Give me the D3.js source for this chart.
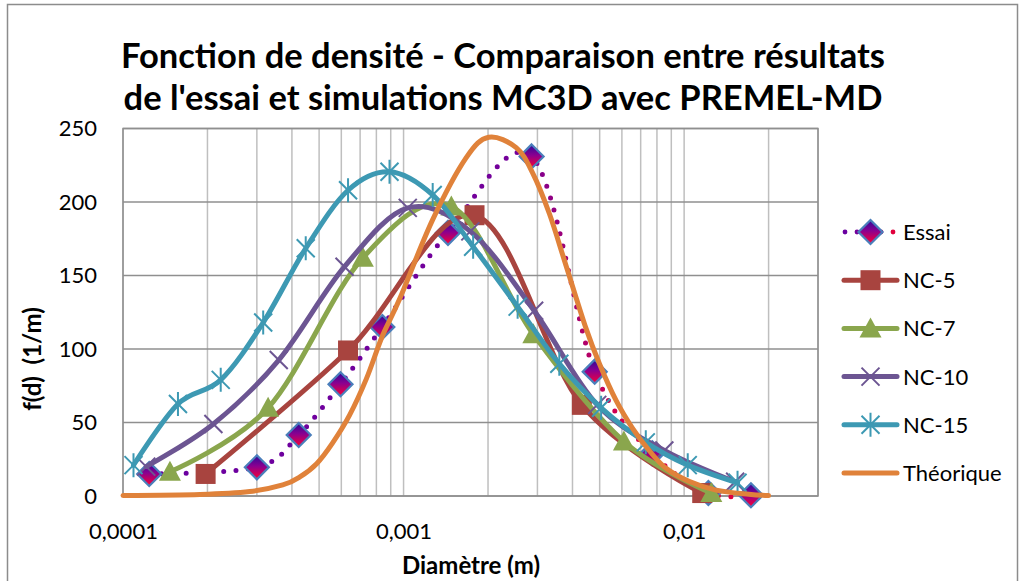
<!DOCTYPE html>
<html><head><meta charset="utf-8">
<script src="https://cdn.jsdelivr.net/npm/d3@7"></script>
<style>
html,body{margin:0;padding:0;background:#fff;}
svg{display:block;font-family:Lato,"Open Sans",sans-serif;}
</style></head><body>
<svg id="c" width="1032" height="581"></svg>
<script>
// ---- data ----
const seriesNames = ["Essai","NC-5","NC-7","NC-10","NC-15","Théorique"];
const essaiD   = [0.000124,0.0003,0.000423,0.000596,0.00084,0.00144,0.00286,0.0048,0.0077,0.0122,0.0173];
const essaiF   = [15,19.5,41.5,76,115,179,231,84.6,29,2,0.5];
const nc5D     = [0.000197,0.000634,0.00179,0.00432,0.0116];
const nc5F     = [15,99,191,62,2];
const nc7D     = [0.000147,0.000329,0.000716,0.00148,0.0029,0.0061,0.0125];
const nc7F     = [16.5,60,162,197,110,37,2];
const nc10D    = [0.000121,0.00021,0.000359,0.000616,0.001035,0.00173,0.00292,0.0049,0.0085,0.0152];
const nc10F    = [20,49,92.5,156,196,180,126,62,31,9.7];
const nc15D    = [0.000109,0.000157,0.000223,0.000316,0.000448,0.000634,0.000891,0.00127,0.00177,0.00255,0.00359,0.00506,0.0073,0.0103,0.0155];
const nc15F    = [21,62.6,79,118,168.5,208,220.6,204.8,169.6,128.8,90,60,36.5,21,9];
const theoD    = [0.0001,0.000188,0.000283,0.000371,0.000427,0.00049,0.000558,0.000642,0.000738,0.000841,0.000968,0.00127,0.00167,0.00201,0.00252,0.00288,0.00331,0.00379,0.00447,0.00499,0.00572,0.00655,0.0075,0.0086,0.0104,0.013,0.017,0.02];
const theoF    = [0.3,1,3,7.5,13,22,36,55,80,109,134,188,230,244,237,220,192,157,114,90,65,46,31,19,10,4,1.2,0.3];
const xTickVals   = [0.0001,0.001,0.01];
const xTickLabels = ["0,0001","0,001","0,01"];
const yTickVals   = [0,50,100,150,200,250];
const titleLines  = ["Fonction de densité - Comparaison entre résultats","de l'essai et simulations MC3D avec PREMEL-MD"];
const xTitle = "Diamètre (m)";
const yTitle = "f(d)  (1/m)";

// ---- layout ----
const svg = d3.select("#c");
const L=123, R=818, T=128.5, B=496;
const x = d3.scaleLog().domain([0.0001,0.03]).range([L,R]);
const y = d3.scaleLinear().domain([0,250]).range([B,T]);

const colors = {"Essai":"#7A1FA2","NC-5":"#A8443F","NC-7":"#8AA64D","NC-10":"#6C5592","NC-15":"#3D99B3","Théorique":"#E0823A"};

const defs = svg.append("defs");
const dg = defs.append("linearGradient").attr("id","diamG").attr("x1",0).attr("y1",0).attr("x2",0).attr("y2",1);
dg.append("stop").attr("offset",0).attr("stop-color","#2A0A9A");
dg.append("stop").attr("offset",0.45).attr("stop-color","#8A0090");
dg.append("stop").attr("offset",1).attr("stop-color","#FF0030");
const eg = defs.append("linearGradient").attr("id","essaiG").attr("x1",0).attr("y1",0).attr("x2",1).attr("y2",0);
eg.append("stop").attr("offset",0).attr("stop-color","#6A00A0");
eg.append("stop").attr("offset",0.62).attr("stop-color","#74009A");
eg.append("stop").attr("offset",0.78).attr("stop-color","#D2004E");
eg.append("stop").attr("offset",1).attr("stop-color","#E2003A");

// outer frame
svg.append("rect").attr("x",7.5).attr("y",4.5).attr("width",1010).attr("height",600)
  .attr("fill","none").attr("stroke","#8c8c8c").attr("stroke-width",1.5);

// title
const tt = svg.append("text").attr("text-anchor","middle").attr("font-weight","bold").attr("fill","#000").attr("font-size",34.5);
titleLines.forEach((t,i)=> tt.append("tspan").attr("x",503).attr("y",i===0?68:110).text(t));

// vertical minor/major grid
const vg=[];
for(let e=-4;e<=-2;e++) for(let m=1;m<=9;m++){ const v=m*Math.pow(10,e); if(v<=0.03) vg.push(v); }
svg.append("g").selectAll("line").data(vg).join("line")
  .attr("x1",d=>x(d)).attr("x2",d=>x(d)).attr("y1",T).attr("y2",B)
  .attr("stroke","#bfbfbf").attr("stroke-width",1.5);
// horizontal grid
svg.append("g").selectAll("line").data(yTickVals).join("line")
  .attr("x1",L).attr("x2",R).attr("y1",d=>y(d)).attr("y2",d=>y(d))
  .attr("stroke","#8f8f8f").attr("stroke-width",1.5);
// plot border
svg.append("rect").attr("x",L).attr("y",T).attr("width",R-L).attr("height",B-T)
  .attr("fill","none").attr("stroke","#8f8f8f").attr("stroke-width",1.5);

// axes (labels only)
const yAxis = svg.append("g").attr("transform",`translate(${L},0)`)
  .call(d3.axisLeft(y).tickValues(yTickVals).tickSize(0).tickPadding(26));
yAxis.select(".domain").remove();
yAxis.selectAll("text").attr("font-size",22).attr("font-family","Lato").attr("fill","#000");
const xAxis = svg.append("g").attr("transform",`translate(0,${B})`)
  .call(d3.axisBottom(x).tickValues(xTickVals).tickFormat((d,i)=>xTickLabels[i]).tickSize(0).tickPadding(27));
xAxis.select(".domain").remove();
xAxis.selectAll("text").attr("font-size",22).attr("font-family","Lato").attr("fill","#000");

svg.append("text").attr("x",471).attr("y",574).attr("text-anchor","middle")
  .attr("font-weight","bold").attr("font-size",24).text(xTitle);
svg.append("text").attr("transform","translate(41,359) rotate(-90)").attr("text-anchor","middle")
  .attr("font-weight","bold").attr("font-size",24).attr("xml:space","preserve").style("white-space","pre").text(yTitle);

// markers
function marker(g, type, cx, cy, col){
  if(type==="diamond"){
    g.append("path").attr("d",`M${cx},${cy-12}L${cx+12},${cy}L${cx},${cy+12}L${cx-12},${cy}Z`)
      .attr("fill","url(#diamG)").attr("stroke","#4A7EBB").attr("stroke-width",2.2);
  } else if(type==="square"){
    g.append("rect").attr("x",cx-10).attr("y",cy-10).attr("width",20).attr("height",20).attr("fill",col);
  } else if(type==="triangle"){
    g.append("path").attr("d",`M${cx},${cy-11}L${cx+11},${cy+9}L${cx-11},${cy+9}Z`).attr("fill",col);
  } else if(type==="x"){
    g.append("path").attr("d",`M${cx-9},${cy-9}L${cx+9},${cy+9}M${cx-9},${cy+9}L${cx+9},${cy-9}`)
      .attr("stroke",col).attr("stroke-width",2);
  } else if(type==="star"){
    g.append("path").attr("d",`M${cx-9},${cy-9}L${cx+9},${cy+9}M${cx-9},${cy+9}L${cx+9},${cy-9}M${cx},${cy-12}L${cx},${cy+12}`)
      .attr("stroke",col).attr("stroke-width",2);
  }
}

const series = [
  {name:"Essai", d:essaiD, f:essaiF, m:"diamond", dotted:true},
  {name:"NC-5", d:nc5D, f:nc5F, m:"square"},
  {name:"NC-7", d:nc7D, f:nc7F, m:"triangle"},
  {name:"NC-10", d:nc10D, f:nc10F, m:"x"},
  {name:"NC-15", d:nc15D, f:nc15F, m:"star"},
  {name:"Théorique", d:theoD, f:theoF, m:null}
];
const line = d3.line().x(p=>x(p[0])).y(p=>y(p[1])).curve(d3.curveCatmullRom.alpha(0));
const plot = svg.append("g");
series.forEach(s=>{
  const pts = s.d.map((v,i)=>[v,s.f[i]]);
  const g = plot.append("g");
  const p = g.append("path").attr("d",line(pts)).attr("fill","none");
  if(s.dotted){
    p.attr("stroke","url(#essaiG)").attr("stroke-width",5).attr("stroke-linecap","round").attr("stroke-dasharray","0 12.4");
  } else {
    p.attr("stroke",colors[s.name]).attr("stroke-width",5).attr("stroke-linecap","round");
  }
  if(s.m) pts.forEach(q=>marker(g,s.m,x(q[0]),y(q[1]),colors[s.name]));
});

// legend
const lg = svg.append("g");
series.forEach((s,i)=>{
  const cy = 232 + i*48.2;
  const g = lg.append("g");
  if(s.dotted){
    [845,857,881,893].forEach((px,k)=> g.append("circle").attr("cx",px).attr("cy",cy).attr("r",2.4)
      .attr("fill",["#6A00A0","#74009A","#B0006A","#E0003C"][k]));
  } else {
    g.append("line").attr("x1",844).attr("x2",897).attr("y1",cy).attr("y2",cy)
      .attr("stroke",colors[s.name]).attr("stroke-width",5).attr("stroke-linecap","round");
  }
  if(s.m) marker(g,s.m,870.5,cy,colors[s.name]);
  g.append("text").attr("x",903).attr("y",cy+8).attr("font-size",22).attr("fill","#000").text(s.name);
});
</script>
</body></html>
